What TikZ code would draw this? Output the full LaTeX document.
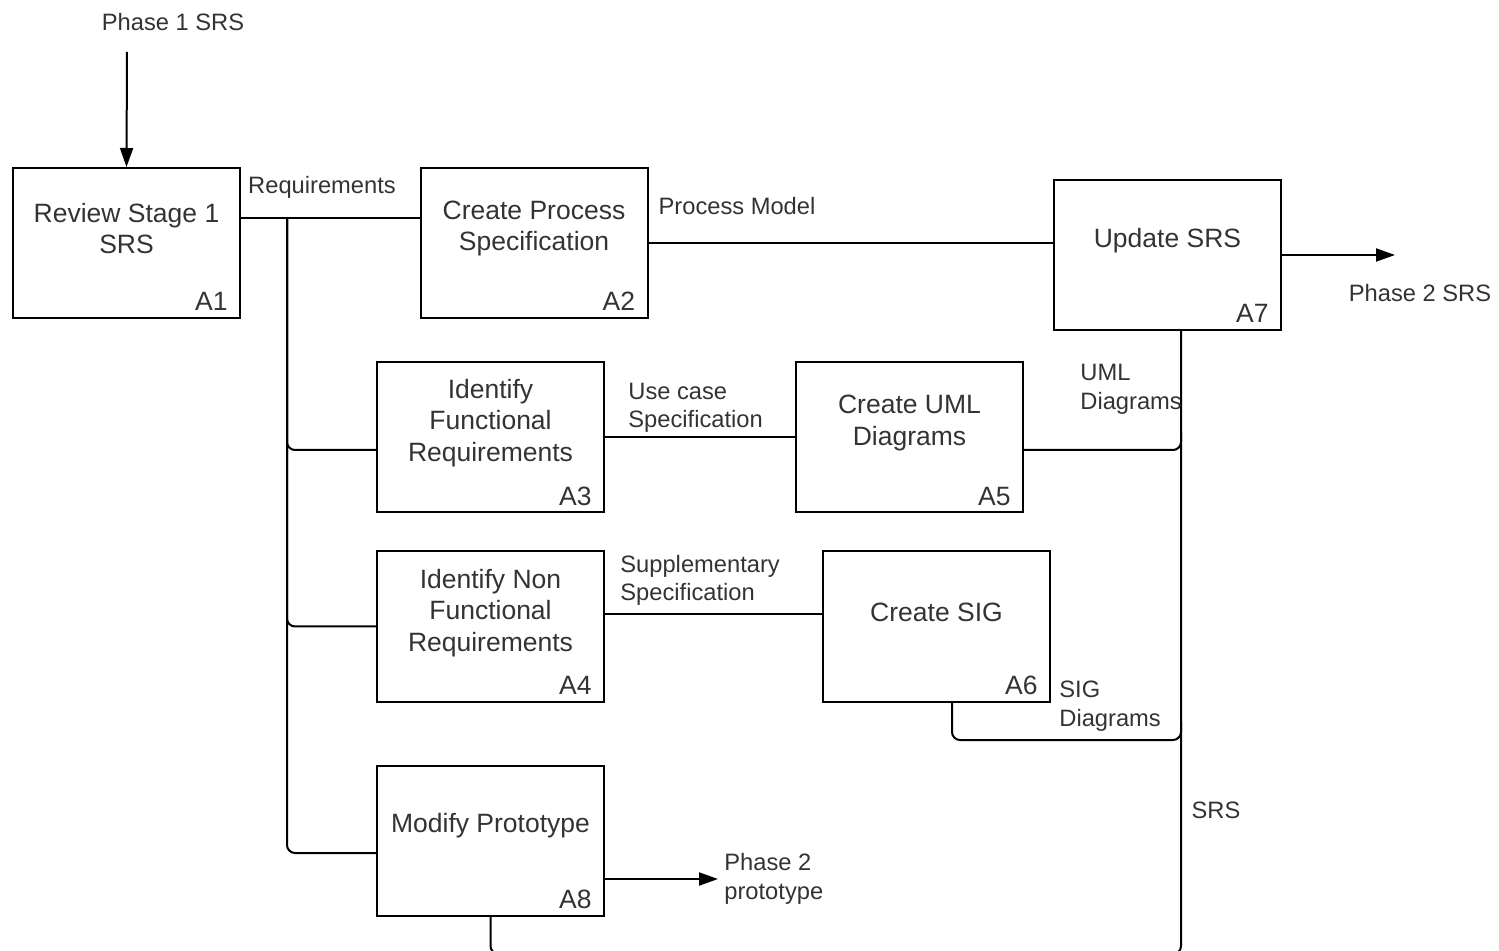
\documentclass[tikz,border=0pt]{standalone}
\usepackage{fontspec}
\setmainfont{Liberation Sans}
\usetikzlibrary{arrows.meta}
\begin{document}
\begin{tikzpicture}[x=0.5pt,y=-0.5pt,
 box/.style={draw=black, line width=1pt, minimum width=113.5pt, minimum height=75pt, inner sep=0pt},
 btxt/.style={inner sep=0pt, align=center, text=black!80, font=\fontsize{13.25}{15.75}\selectfont},
 tag/.style={inner sep=0pt, anchor=base east, text=black!80, font=\fontsize{13.25}{15.75}\selectfont},
 lbl/.style={inner sep=0pt, text=black!80, font=\fontsize{11.85}{14.25}\selectfont},
 lbll/.style={lbl, align=left, anchor=west},
 conn/.style={line width=1pt, rounded corners=4pt},
 arr/.style={conn, -{Triangle[length=9.5pt,width=6.5pt]}}]
\useasboundingbox (0,0) rectangle (1499,951);
\clip (0,0) rectangle (1499,951);
% boxes
\node[box] (A1) at (126.5,243) {};
\node[box] (A2) at (534,243) {};
\node[box] (A7) at (1167.5,255) {};
\node[box] (A3) at (490.5,437.5) {};
\node[box] (A5) at (909.5,437.5) {};
\node[box] (A4) at (490.5,626.5) {};
\node[box] (A6) at (936.5,626.5) {};
\node[box] (A8) at (490.5,840.5) {};
% box texts
\node[btxt] (A1t) at ([yshift=7.25pt]A1.center) {Review Stage 1\\SRS};
\node[btxt] (A2t) at ([yshift=7.25pt]A2.center) {Create Process\\Specification};
\node[btxt] (A7t) at ([yshift=7pt]A7.center) {Update SRS};
\node[btxt] (A3t) at ([yshift=7.25pt]A3.center) {Identify\\Functional\\Requirements};
\node[btxt] (A5t) at ([yshift=7.25pt]A5.center) {Create UML\\Diagrams};
\node[btxt] (A4t) at ([yshift=6.75pt]A4.center) {Identify Non\\Functional\\Requirements};
\node[btxt] (A6t) at ([yshift=7.25pt]A6.center) {Create SIG};
\node[btxt] (A8t) at ([yshift=7.25pt]A8.center) {Modify Prototype};
% tags
\foreach \n in {A1,A2,A7,A3,A5,A4,A6,A8}
  \node[tag] (\n tag) at ([xshift=-6.5pt,yshift=4pt]\n.south east) {\n};
% coordinates
\coordinate (in1) at (127,52);
\coordinate (req) at (287,218);
\coordinate (out7) at (1395,255);
\coordinate (out8) at (718,879);
\coordinate (umlj) at (1181,432);
\coordinate (sigb) at (1181,740);
\coordinate (sigj) at (1181,722);
\coordinate (bot) at (0,954);
% connectors
\draw[arr] (in1) -- (A1.north);
\draw[conn] ([yshift=12.5pt]A1.east) -- ([yshift=12.5pt]A2.west);
\draw[conn] (req) |- ([yshift=-6.25pt]A3.west);
\draw[conn] (req) |- (A4.west);
\draw[conn] (req) |- ([yshift=-6.25pt]A8.west);
\draw[conn] (A2.east) -- (A2.east -| A7.west);
\draw[conn] (A3.east) -- (A5.west);
\draw[conn] ([yshift=6.25pt]A4.east) -- ([yshift=6.25pt]A6.west);
\draw[conn] ([yshift=-6.25pt]A5.east) -| (umlj);
\draw[conn] ([xshift=7.75pt]A6.south) |- (sigb) -- (sigj);
\draw[conn] ([xshift=6.75pt]A7.south) |- (bot -| A8.south) -- (A8.south);
\draw[arr] (A7.east) -- (out7);
\draw[arr] ([yshift=-19.25pt]A8.east) -- (out8);
% labels
\node[lbl] (l1) at (173,22.5) {Phase 1 SRS};
\node[lbl] (l2) at (322,187) {Requirements};
\node[lbl] (l3) at (737,206) {Process Model};
\node[lbll] (l4) at (628,408) {Use case\\Specification};
\node[lbll] (l5) at (620,580.5) {Supplementary\\Specification};
\node[lbll] (l6) at (1080,389.5) {UML\\Diagrams};
\node[lbll] (l7) at (1059,706) {SIG\\Diagrams};
\node[lbl] (l8) at (1216,810) {SRS};
\node[lbl] (l9) at (1420,293) {Phase 2 SRS};
\node[lbll] (l10) at (724,879) {Phase 2\\prototype};
\end{tikzpicture}
\end{document}
